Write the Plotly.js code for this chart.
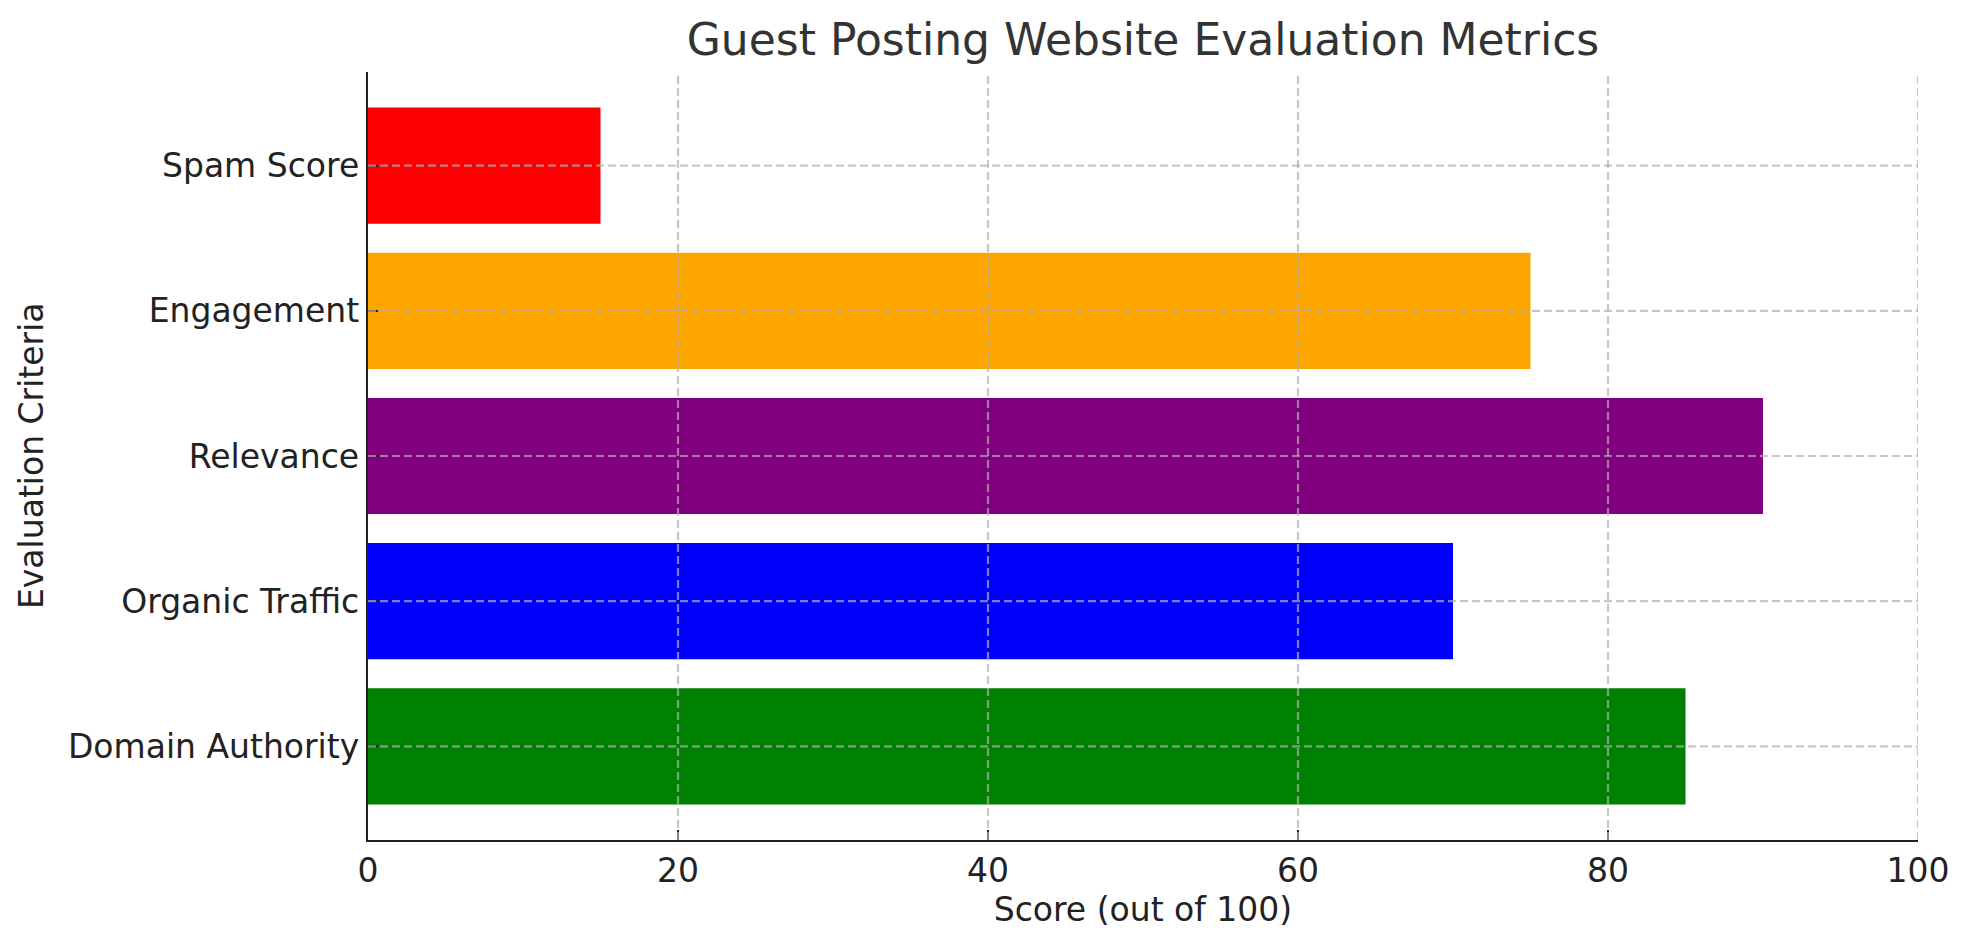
<!DOCTYPE html>
<html>
<head>
<meta charset="utf-8">
<script src="https://cdn.plot.ly/plotly-3.0.1.min.js"></script>
<style>
  html, body { margin: 0; padding: 0; background: #ffffff; }
  #chart { width: 1970px; height: 947px; }
</style>
</head>
<body>
<div id="chart"></div>
<script>
// data (bottom to top)
const criteria = ['Domain Authority', 'Organic Traffic', 'Relevance', 'Engagement', 'Spam Score'];
const scores = [85, 70, 90, 75, 15];
const barColors = ['#008000', '#0000ff', '#800080', '#ffa500', '#ff0000'];
const xTicks = [0, 20, 40, 60, 80, 100];

const FONT = '"DejaVu Sans", Verdana, sans-serif';
const gridLine = { color: 'rgba(176,176,176,0.7)', width: 2.2, dash: '8px,4px' };

// grid sits on top of the bars in the reference, so draw it as shapes
const gridShapes = [];
xTicks.filter(v => v > 0).forEach(v => {
    gridShapes.push({
        type: 'line', layer: 'above',
        xref: 'x', yref: 'paper',
        x0: v, x1: v, y0: 0, y1: 1,
        line: gridLine
    });
});
criteria.forEach(c => {
    gridShapes.push({
        type: 'line', layer: 'above',
        xref: 'paper', yref: 'y',
        x0: 0, x1: 1, y0: c, y1: c,
        line: gridLine
    });
});

const trace = {
    type: 'bar',
    orientation: 'h',
    x: scores,
    y: criteria,
    width: 0.8,
    marker: { color: barColors, line: { width: 0 } },
    hoverinfo: 'x+y'
};

const layout = {
    width: 1970,
    height: 947,
    paper_bgcolor: '#ffffff',
    plot_bgcolor: '#ffffff',
    font: { family: FONT, size: 33, color: '#222222' },
    margin: { l: 368, r: 52, t: 72, b: 107, pad: 0 },
    showlegend: false,
    title: {
        text: 'Guest Posting Website Evaluation Metrics',
        font: { family: FONT, size: 44, color: '#333333' },
        xref: 'paper', x: 0.5, xanchor: 'center',
        yref: 'paper', y: 1, yanchor: 'bottom',
        pad: { b: 17 }
    },
    xaxis: {
        range: [0, 100],
        tickvals: xTicks,
        ticktext: xTicks.map(String),
        showgrid: false,
        zeroline: false,
        showline: true,
        linecolor: '#222222',
        linewidth: 2.2,
        ticks: 'inside',
        ticklen: 10,
        tickwidth: 2.2,
        tickcolor: '#222222',
        ticklabelstandoff: 0,
        tickfont: { family: FONT, size: 33, color: '#222222' },
        layer: 'above traces',
        title: {
            text: 'Score (out of 100)',
            font: { family: FONT, size: 33, color: '#222222' },
            standoff: 4
        },
        automargin: false,
        fixedrange: true
    },
    yaxis: {
        type: 'category',
        categoryorder: 'array',
        categoryarray: criteria,
        range: [-0.645, 4.645],
        showgrid: false,
        zeroline: false,
        showline: true,
        linecolor: '#222222',
        linewidth: 2.2,
        ticks: 'inside',
        ticklen: 10,
        tickwidth: 2.2,
        tickcolor: '#222222',
        ticklabelstandoff: 0,
        tickfont: { family: FONT, size: 33, color: '#222222' },
        layer: 'above traces',
        automargin: false,
        fixedrange: true
    },
    // y title placed as an annotation so it can sit close to the left edge
    annotations: [{
        text: 'Evaluation Criteria',
        xref: 'paper', yref: 'paper',
        x: -0.2174, y: 0.5,
        xanchor: 'center', yanchor: 'middle',
        textangle: -90,
        showarrow: false,
        font: { family: FONT, size: 33, color: '#222222' }
    }],
    shapes: gridShapes,
    bargap: 0.2
};

Plotly.newPlot('chart', [trace], layout, { displayModeBar: false, staticPlot: true });
</script>
</body>
</html>
